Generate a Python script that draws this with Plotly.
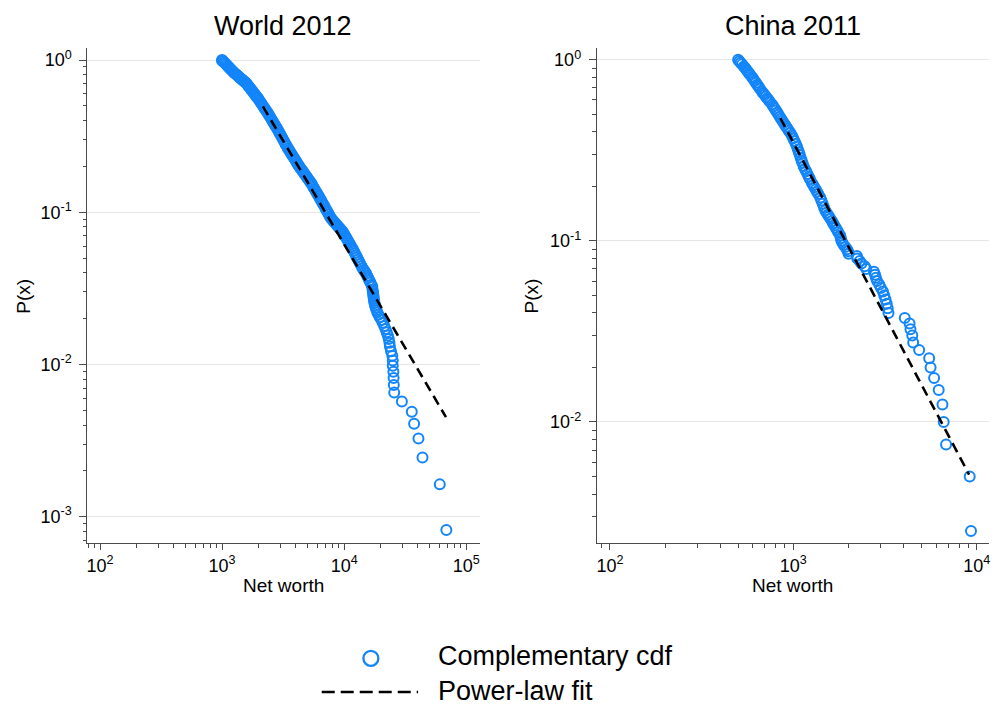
import plotly.graph_objects as go

# ---------------- data ----------------
world_networth = [1000, 1000, 1021, 1042, 1064, 1086, 1109, 1132, 1156, 1180, 1205, 1230,
                  1256, 1282, 1309, 1337, 1365, 1393, 1422, 1452, 1483, 1514, 1545, 1581,
                  1614, 1648, 1683, 1718, 1754, 1791, 1828, 1866, 1905, 1937, 1968,
                  2009, 2051, 2094, 2138, 2183, 2228, 2275, 2323, 2374,
                  2427, 2477, 2529, 2582, 2636, 2692, 2748, 2805, 2864,
                  2924, 2985, 3048, 3112, 3177, 3243, 3311, 3381, 3459,
                  3532, 3606, 3681, 3758, 3837, 3917, 3999, 4083, 4169, 4240, 4305,
                  4395, 4487, 4581, 4677, 4775, 4875, 4977, 5082, 5188, 5280, 5370,
                  5483, 5598, 5715, 5834, 5957, 6081, 6209, 6339, 6471,
                  6607, 6745, 6887, 7031, 7178, 7328, 7482, 7638, 7811,
                  7980, 8147, 8318, 8492, 8670, 8851, 9036, 9226, 9419, 9570, 9727,
                  9931, 10139, 10351, 10568, 10789, 11015, 11246, 11482, 11722,
                  11967, 12218, 12474, 12735, 13002, 13274, 13552, 13836, 14158,
                  14454, 14757, 15101, 15417, 15740, 16069, 16406, 16749, 16982,
                  17100, 17150, 17300, 17350, 17400, 17500, 17600, 17700, 17900, 18100, 18400, 18700,
                  19100, 19600, 20200, 20700, 21300, 21800, 22300, 22800, 23200, 23500, 23700, 24200,
                  24800, 25000, 25000, 25300, 25400, 25500, 25700, 29700, 35800, 37400, 40600, 43800,
                  60700, 68700]
world_ccdf = [1.0, 0.99, 0.982, 0.965, 0.948, 0.932, 0.915, 0.899, 0.884, 0.868, 0.853, 0.838,
              0.826, 0.814, 0.802, 0.791, 0.779, 0.768, 0.757, 0.746, 0.736, 0.725, 0.715, 0.703,
              0.688, 0.673, 0.659, 0.645, 0.631, 0.618, 0.605, 0.592, 0.579, 0.569, 0.560,
              0.546, 0.533, 0.520, 0.507, 0.494, 0.482, 0.470, 0.459, 0.447,
              0.434, 0.422, 0.410, 0.399, 0.388, 0.377, 0.367, 0.357, 0.347,
              0.337, 0.327, 0.317, 0.307, 0.298, 0.289, 0.280, 0.272, 0.263,
              0.256, 0.250, 0.243, 0.237, 0.231, 0.225, 0.219, 0.213, 0.207, 0.203, 0.199,
              0.194, 0.190, 0.186, 0.181, 0.177, 0.173, 0.169, 0.165, 0.161, 0.158, 0.155,
              0.151, 0.146, 0.142, 0.138, 0.134, 0.131, 0.127, 0.123, 0.120,
              0.116, 0.113, 0.110, 0.106, 0.103, 0.100, 0.097, 0.094, 0.0912,
              0.0894, 0.0877, 0.0861, 0.0844, 0.0828, 0.0813, 0.0797, 0.0782, 0.0767, 0.0756, 0.0745,
              0.0724, 0.0703, 0.0684, 0.0664, 0.0645, 0.0627, 0.0609, 0.0592, 0.0575,
              0.0557, 0.0539, 0.0522, 0.0505, 0.0489, 0.0473, 0.0458, 0.0444, 0.0428,
              0.0418, 0.0408, 0.0397, 0.0383, 0.0370, 0.0357, 0.0345, 0.0333, 0.0325,
              0.031, 0.0302, 0.0294, 0.0285, 0.0277, 0.0269, 0.0261, 0.0253, 0.0245, 0.0237, 0.0228, 0.0220,
              0.0212, 0.0204, 0.0196, 0.0188, 0.0179, 0.0171, 0.0163, 0.0155, 0.0147, 0.0139, 0.0131, 0.0122,
              0.0114, 0.0106, 0.00979, 0.00897, 0.00816, 0.00734, 0.00653, 0.00571, 0.00489, 0.00408, 0.00326,
              0.00245, 0.00163, 0.000816]

china_networth = [500, 508, 516, 525, 537, 546, 555, 564, 573, 582, 596,
                  605, 615, 625, 635, 646, 656, 675, 685, 697, 708, 719, 731, 743, 766,
                  778, 791, 804, 817, 830, 843, 857, 871, 885, 899, 914, 929, 944, 962, 982,
                  998, 1014, 1030, 1046, 1059, 1072, 1084, 1096, 1109, 1122, 1138,
                  1156, 1175, 1194, 1213, 1233, 1262, 1282, 1303, 1324, 1346, 1368, 1402,
                  1422, 1445, 1469, 1493, 1517, 1542, 1567, 1592, 1622,
                  1648, 1675, 1702, 1730, 1758, 1801, 1815,
                  1830, 1850, 1880, 1920, 1960, 1990, 2000, 2220, 2230, 2300, 2350, 2450,
                  2500, 2750, 2790, 2820, 2860, 2940, 3000, 3080, 3130, 3180, 3230, 3270, 3300, 4050, 4300,
                  4350, 4450, 4500, 4850, 5500, 5600, 5850, 6200, 6500, 6600, 6800, 9150, 9300]
china_ccdf = [1.0, 0.981, 0.963, 0.945, 0.919, 0.900, 0.881, 0.862, 0.843, 0.826, 0.800,
              0.782, 0.763, 0.746, 0.728, 0.711, 0.694, 0.667, 0.653, 0.640, 0.626, 0.614, 0.601, 0.589, 0.566,
              0.552, 0.538, 0.524, 0.511, 0.498, 0.485, 0.473, 0.461, 0.449, 0.438, 0.427, 0.417, 0.406, 0.395,
              0.382, 0.369, 0.356, 0.344, 0.332, 0.320, 0.309, 0.299, 0.288, 0.278, 0.269, 0.258,
              0.249, 0.242, 0.234, 0.226, 0.219, 0.209, 0.2035, 0.1978, 0.1922, 0.1868, 0.1816, 0.1738,
              0.1672, 0.1602, 0.1535, 0.147, 0.1432, 0.1396, 0.1361, 0.1327, 0.1288,
              0.1252, 0.1217, 0.1182, 0.1149, 0.1117, 0.107, 0.1035,
              0.1, 0.0975, 0.095, 0.0925, 0.09, 0.0875, 0.085, 0.0825, 0.08, 0.0775, 0.075, 0.0725,
              0.07, 0.0675, 0.065, 0.0625, 0.06, 0.0575, 0.055, 0.0525, 0.05, 0.0475, 0.045, 0.0425, 0.04,
              0.0375, 0.035, 0.0325, 0.03, 0.0275, 0.025, 0.0225, 0.02, 0.0175, 0.015, 0.0125, 0.01, 0.0075,
              0.005, 0.0025]

world_fit_x = [2161, 68200]
world_fit_p = [0.4955, 0.00451]
china_fit_x = [849, 9080]
china_fit_p = [0.477, 0.00512]

panel_titles = ["World 2012", "China 2011"]
x_title = "Net worth"
y_title = "P(x)"
legend_labels = ["Complementary cdf", "Power-law fit"]

world_xticks = [1e2, 1e3, 1e4, 1e5]
world_xtext = ["10<sup>2</sup>", "10<sup>3</sup>", "10<sup>4</sup>", "10<sup>5</sup>"]
world_yticks = [1, 0.1, 0.01, 0.001]
world_ytext = ["10<sup>0</sup>", "10<sup>-1</sup>", "10<sup>-2</sup>", "10<sup>-3</sup>"]
china_xticks = [1e2, 1e3, 1e4]
china_xtext = ["10<sup>2</sup>", "10<sup>3</sup>", "10<sup>4</sup>"]
china_yticks = [1, 0.1, 0.01]
china_ytext = ["10<sup>0</sup>", "10<sup>-1</sup>", "10<sup>-2</sup>"]

# ---------------- styling ----------------
W, H = 994, 704
BLUE = "#1385fb"
FONT = "Liberation Sans, Arial, sans-serif"
AXC = "#4a4a4a"
GRID = "#e6e6e6"


def minor_vals(lo, hi):
    out = []
    d = lo
    while d < hi:
        for m in range(2, 10):
            out.append(m * d)
        d *= 10
    return out


def px(xp):
    return xp / W


def py(yp):
    return 1 - yp / H


marker_style = dict(symbol="circle-open", size=10, color=BLUE, line=dict(width=2.0, color=BLUE))
fit_style = dict(color="black", width=2.6, dash="10px,6px")

fig = go.Figure()
fig.add_trace(go.Scatter(x=world_networth, y=world_ccdf, mode="markers", xaxis="x", yaxis="y",
                         marker=marker_style, name=legend_labels[0], showlegend=False))
fig.add_trace(go.Scatter(x=world_fit_x, y=world_fit_p, mode="lines", xaxis="x", yaxis="y",
                         line=fit_style, name=legend_labels[1], showlegend=False))
fig.add_trace(go.Scatter(x=china_networth, y=china_ccdf, mode="markers", xaxis="x2", yaxis="y2",
                         marker=marker_style, name=legend_labels[0], showlegend=False))
fig.add_trace(go.Scatter(x=china_fit_x, y=china_fit_p, mode="lines", xaxis="x2", yaxis="y2",
                         line=fit_style, name=legend_labels[1], showlegend=False))

ydom = [py(543.3), py(48)]
common_x = dict(type="log", showgrid=False, showline=True, linecolor=AXC, linewidth=1.3,
                ticks="outside", ticklen=6, tickcolor=AXC, tickwidth=1.2, zeroline=False,
                tickfont=dict(size=18, color="black", family=FONT), fixedrange=True)
common_y = dict(type="log", showgrid=True, gridcolor=GRID, gridwidth=1.2, showline=True, linecolor=AXC,
                linewidth=1.3, ticks="outside", ticklen=7, tickcolor=AXC, tickwidth=1.2, zeroline=False,
                tickfont=dict(size=18, color="black", family=FONT), fixedrange=True,
                ticklabelstandoff=4)
minor_x = dict(ticks="outside", ticklen=4, tickcolor=AXC, tickwidth=1, showgrid=False)
minor_y = dict(ticks="outside", ticklen=3.5, tickcolor=AXC, tickwidth=1, showgrid=False)

fig.update_layout(
    width=W, height=H, autosize=False,
    margin=dict(l=0, r=0, t=0, b=0),
    paper_bgcolor="white", plot_bgcolor="white",
    font=dict(family=FONT, color="black"),
    showlegend=False,
    xaxis=dict(common_x, domain=[px(86.7), px(480)], range=[1.897, 5.109], anchor="y",
               tickvals=world_xticks, ticktext=world_xtext,
               minor=dict(minor_x, tickvals=minor_vals(10, 1e5))),
    yaxis=dict(common_y, domain=ydom, range=[-3.175, 0.079], anchor="x",
               tickvals=world_yticks, ticktext=world_ytext,
               minor=dict(minor_y, tickvals=minor_vals(1e-4, 1))),
    xaxis2=dict(common_x, domain=[px(597.7), px(990.7)], range=[1.929, 4.065], anchor="y2",
                tickvals=china_xticks, ticktext=china_xtext,
                minor=dict(minor_x, tickvals=minor_vals(10, 1e4))),
    yaxis2=dict(common_y, domain=ydom, range=[-2.670, 0.065], anchor="x2",
                tickvals=china_yticks, ticktext=china_ytext,
                minor=dict(minor_y, tickvals=minor_vals(1e-3, 1))),
)

annotations = []
for title, cx in zip(panel_titles, [283.3, 794.2]):
    annotations.append(dict(text=title, x=px(cx), y=py(26), xref="paper", yref="paper",
                            xanchor="center", yanchor="middle", showarrow=False,
                            font=dict(size=27, family=FONT, color="black")))
for cx in [283.3, 794.2]:
    annotations.append(dict(text=x_title, x=px(cx), y=py(585), xref="paper", yref="paper",
                            xanchor="center", yanchor="middle", showarrow=False,
                            font=dict(size=19, family=FONT, color="black")))
for cx in [21.7, 532]:
    annotations.append(dict(text=y_title, x=px(cx), y=py(296), xref="paper", yref="paper",
                            xanchor="center", yanchor="middle", showarrow=False, textangle=-90,
                            font=dict(size=19, family=FONT, color="black")))
annotations.append(dict(text=legend_labels[0], x=px(436.5), y=py(655.5), xref="paper", yref="paper",
                        xanchor="left", yanchor="middle", showarrow=False,
                        font=dict(size=27, family=FONT, color="black")))
annotations.append(dict(text=legend_labels[1], x=px(436.5), y=py(691), xref="paper", yref="paper",
                        xanchor="left", yanchor="middle", showarrow=False,
                        font=dict(size=27, family=FONT, color="black")))
fig.update_layout(annotations=annotations)

shapes = [
    dict(type="circle", xref="paper", yref="paper",
         x0=px(371 - 7.5), x1=px(371 + 7.5), y0=py(658.3 + 7.5), y1=py(658.3 - 7.5),
         line=dict(color=BLUE, width=2.3)),
    dict(type="line", xref="paper", yref="paper",
         x0=px(321.7), x1=px(418.3), y0=py(692), y1=py(692),
         line=dict(color="black", width=2.7, dash="13px,6px")),
]
fig.update_layout(shapes=shapes)

fig.write_html("out.html", config={"displayModeBar": False},
               post_script="document.body.style.margin='0';document.body.style.overflow='hidden';")
